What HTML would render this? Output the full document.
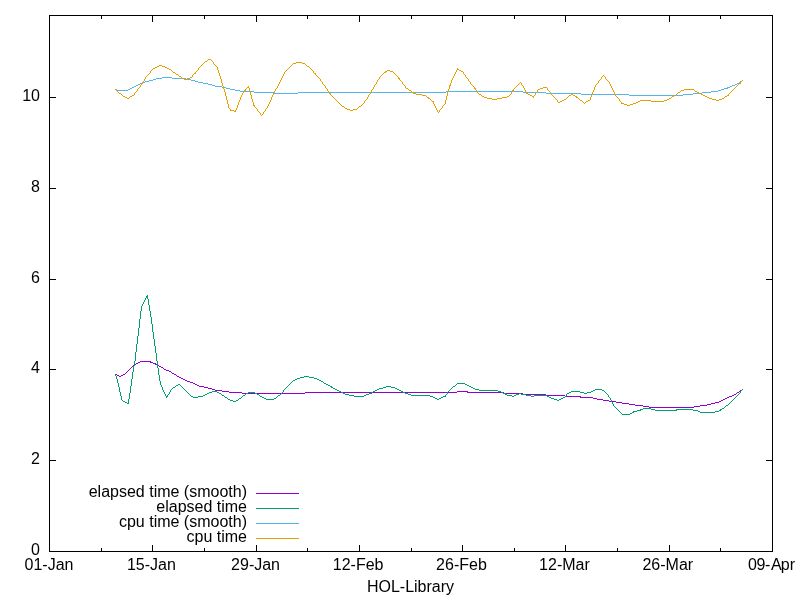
<!DOCTYPE html>
<html><head><meta charset="utf-8"><title>HOL-Library</title>
<style>
html,body{margin:0;padding:0;background:#fff;}
body{width:800px;height:600px;overflow:hidden;}
svg{display:block;will-change:transform;}
text{font-family:"Liberation Sans",sans-serif;font-size:16px;fill:#000;}
</style></head><body>
<svg width="800" height="600" viewBox="0 0 800 600">
<rect width="800" height="600" fill="#fff"/>
<g fill="none" stroke-width="1" shape-rendering="crispEdges">
<path d="M49,551.5H56M766,551.5H773M49,460.5H56M766,460.5H773M49,369.5H56M766,369.5H773M49,279.5H56M766,279.5H773M49,188.5H56M766,188.5H773M49,97.5H56M766,97.5H773M49.5,545V552M49.5,15V22M152.5,545V552M152.5,15V22M256.5,545V552M256.5,15V22M359.5,545V552M359.5,15V22M462.5,545V552M462.5,15V22M565.5,545V552M565.5,15V22M669.5,545V552M669.5,15V22M772.5,545V552M772.5,15V22M101.5,548V552M101.5,15V19M204.5,548V552M204.5,15V19M307.5,548V552M307.5,15V19M411.5,548V552M411.5,15V19M514.5,548V552M514.5,15V19M617.5,548V552M617.5,15V19M720.5,548V552M720.5,15V19" stroke="#000"/>
<path d="M140,361.5h11M138,362.5h2M150,362.5h3M136,363.5h2M153,363.5h3M134,364.5h2M155,364.5h2M157,365.5h2M159,366.5h2M161,367.5h2M164,369.5h2M166,370.5h3M169,371.5h2M172,373.5h2M115,374.5h2M123,374.5h2M174,374.5h2M117,375.5h2M121,375.5h2M119,376.5h2M177,376.5h2M179,377.5h2M181,378.5h2M183,379.5h2M185,380.5h2M187,381.5h3M190,382.5h3M193,383.5h2M195,384.5h2M197,385.5h2M199,386.5h5M204,387.5h4M208,388.5h4M212,389.5h3M215,390.5h7M740,390.5h2M222,391.5h7M457,391.5h11M739,391.5h2M229,392.5h13M305,392.5h152M467,392.5h37M737,392.5h2M242,393.5h63M504,393.5h19M522,394.5h24M734,394.5h2M546,395.5h19M732,395.5h2M565,396.5h16M729,396.5h3M580,397.5h13M727,397.5h2M593,398.5h4M725,398.5h2M597,399.5h6M723,399.5h2M603,400.5h6M721,400.5h2M609,401.5h7M719,401.5h2M616,402.5h6M715,402.5h4M622,403.5h7M711,403.5h4M629,404.5h6M707,404.5h4M635,405.5h8M700,405.5h7M643,406.5h6M694,406.5h6M649,407.5h45M125.5,373v1M126.5,372v1M127.5,371v1M128.5,370v1M129.5,369v1M130.5,368v1M131.5,367v1M132.5,366v1M133.5,365v1M163.5,368v1M171.5,372v1M176.5,375v1M736.5,393v1M742.5,389v1" stroke="#9400d3"/>
<path d="M146,296.5h2M146,297.5h2M304,376.5h5M300,377.5h4M309,377.5h5M297,378.5h3M314,378.5h3M295,379.5h2M317,379.5h2M293,380.5h2M319,380.5h2M321,381.5h2M324,383.5h2M457,383.5h8M178,384.5h2M326,384.5h2M465,384.5h2M176,385.5h2M328,385.5h2M467,385.5h2M330,386.5h2M386,386.5h5M453,386.5h2M469,386.5h2M173,387.5h2M331,387.5h2M383,387.5h3M391,387.5h4M471,387.5h2M333,388.5h2M379,388.5h4M395,388.5h2M473,388.5h2M335,389.5h2M377,389.5h2M397,389.5h2M475,389.5h4M595,389.5h7M337,390.5h2M375,390.5h2M399,390.5h2M479,390.5h19M593,390.5h2M602,390.5h2M212,391.5h5M339,391.5h2M373,391.5h2M401,391.5h2M498,391.5h3M571,391.5h9M591,391.5h2M209,392.5h3M217,392.5h2M248,392.5h7M341,392.5h2M371,392.5h2M403,392.5h2M501,392.5h2M569,392.5h2M580,392.5h4M587,392.5h4M207,393.5h2M219,393.5h2M246,393.5h2M255,393.5h2M343,393.5h2M369,393.5h3M405,393.5h3M503,393.5h3M519,393.5h2M567,393.5h2M584,393.5h3M205,394.5h2M257,394.5h2M345,394.5h4M366,394.5h3M408,394.5h3M505,394.5h2M516,394.5h3M521,394.5h5M203,395.5h2M222,395.5h2M243,395.5h2M278,395.5h2M349,395.5h5M364,395.5h2M411,395.5h19M507,395.5h5M514,395.5h2M526,395.5h5M534,395.5h13M166,396.5h2M191,396.5h2M198,396.5h5M260,396.5h2M354,396.5h10M430,396.5h3M443,396.5h3M512,396.5h2M531,396.5h3M547,396.5h2M193,397.5h5M225,397.5h2M262,397.5h2M433,397.5h2M441,397.5h2M549,397.5h2M563,397.5h2M239,398.5h2M264,398.5h2M274,398.5h2M435,398.5h2M439,398.5h2M551,398.5h3M561,398.5h2M228,399.5h2M266,399.5h8M437,399.5h2M554,399.5h3M559,399.5h2M230,400.5h3M236,400.5h2M557,400.5h2M123,401.5h2M233,401.5h3M125,402.5h2M127,403.5h2M726,405.5h2M643,408.5h8M722,408.5h2M640,409.5h3M651,409.5h4M676,409.5h17M720,409.5h2M637,410.5h4M655,410.5h22M693,410.5h5M719,410.5h2M633,411.5h4M698,411.5h2M715,411.5h4M632,412.5h2M700,412.5h15M630,413.5h2M622,414.5h8M115.5,374v2M116.5,376v3M117.5,379v4M118.5,383v4M119.5,387v5M120.5,392v4M121.5,396v4M122.5,400v1M128.5,399v4M129.5,393v6M130.5,386v7M131.5,379v7M132.5,372v7M133.5,366v6M134.5,361v5M135.5,352v9M136.5,344v8M137.5,336v8M138.5,328v8M139.5,319v9M140.5,311v8M141.5,306v5M142.5,304v2M143.5,302v2M144.5,300v2M145.5,298v2M147.5,295v1M147.5,298v1M148.5,299v6M149.5,305v6M150.5,311v6M151.5,317v7M152.5,324v8M153.5,332v7M154.5,339v7M155.5,346v7M156.5,353v8M157.5,361v7M158.5,368v7M159.5,375v6M160.5,381v4M161.5,385v2M162.5,387v3M163.5,390v2M164.5,392v2M165.5,394v2M166.5,397v1M167.5,395v1M168.5,394v1M169.5,392v2M170.5,390v2M171.5,389v1M172.5,388v1M175.5,386v1M180.5,385v1M181.5,386v1M182.5,387v1M183.5,388v1M184.5,389v1M185.5,390v1M186.5,391v1M187.5,392v1M188.5,393v1M189.5,394v1M190.5,395v1M221.5,394v1M224.5,396v1M227.5,398v1M238.5,399v1M241.5,397v1M242.5,396v1M245.5,394v1M259.5,395v1M276.5,397v1M277.5,396v1M280.5,394v1M281.5,393v1M282.5,392v1M283.5,390v2M284.5,389v1M285.5,388v1M286.5,387v1M287.5,386v1M288.5,385v1M289.5,384v1M290.5,383v1M291.5,382v1M292.5,381v1M323.5,382v1M445.5,395v1M446.5,394v1M447.5,392v2M448.5,391v1M449.5,390v1M450.5,389v1M451.5,388v1M452.5,387v1M455.5,385v1M456.5,384v1M565.5,396v1M566.5,394v2M604.5,391v1M605.5,392v1M606.5,393v1M607.5,394v1M608.5,395v2M609.5,397v1M610.5,398v2M611.5,400v2M612.5,402v2M613.5,404v2M614.5,406v1M615.5,407v1M616.5,408v1M617.5,409v1M618.5,410v1M619.5,411v1M620.5,412v1M621.5,413v1M724.5,407v1M725.5,406v1M728.5,404v1M729.5,403v1M730.5,402v1M731.5,401v1M732.5,400v1M733.5,399v1M734.5,398v1M735.5,397v1M736.5,396v1M737.5,395v1M738.5,394v1M739.5,393v1M740.5,391v2M741.5,390v1M742.5,389v1" stroke="#009e73"/>
<path d="M162,77.5h10M156,78.5h6M172,78.5h14M153,79.5h3M186,79.5h5M149,80.5h4M191,80.5h4M145,81.5h4M195,81.5h3M740,81.5h2M142,82.5h3M198,82.5h5M140,83.5h2M203,83.5h5M737,83.5h2M138,84.5h2M208,84.5h4M735,84.5h2M136,85.5h2M212,85.5h3M732,85.5h3M134,86.5h2M215,86.5h7M730,86.5h2M132,87.5h2M222,87.5h4M727,87.5h3M130,88.5h2M226,88.5h4M724,88.5h4M115,89.5h2M128,89.5h2M230,89.5h5M721,89.5h3M117,90.5h11M235,90.5h5M718,90.5h3M240,91.5h14M446,91.5h77M711,91.5h7M254,92.5h21M298,92.5h148M523,92.5h23M702,92.5h9M274,93.5h24M546,93.5h35M693,93.5h9M581,94.5h48M683,94.5h10M629,95.5h54M739.5,82v1M742.5,80v1" stroke="#56b4e9"/>
<path d="M208,59.5h3M205,61.5h2M296,62.5h6M293,63.5h3M302,63.5h3M159,65.5h3M157,66.5h2M162,66.5h3M307,66.5h2M155,67.5h2M165,67.5h2M153,68.5h2M167,68.5h2M169,69.5h2M457,69.5h2M387,70.5h3M459,70.5h2M385,71.5h2M390,71.5h3M461,71.5h2M173,72.5h2M384,72.5h2M194,73.5h2M314,73.5h2M176,74.5h2M179,76.5h2M190,77.5h2M182,78.5h2M187,78.5h3M398,78.5h2M184,79.5h3M739,83.5h2M449,85.5h2M247,87.5h2M543,87.5h4M406,88.5h2M474,88.5h2M540,88.5h3M538,89.5h2M684,89.5h10M244,90.5h2M409,90.5h2M512,90.5h2M681,90.5h3M695,91.5h2M412,92.5h2M678,92.5h2M697,92.5h2M119,93.5h2M329,93.5h2M413,93.5h3M526,93.5h2M699,93.5h2M416,94.5h6M479,94.5h2M528,94.5h2M571,94.5h2M701,94.5h2M132,95.5h2M422,95.5h4M530,95.5h2M569,95.5h2M573,95.5h2M674,95.5h2M703,95.5h2M727,95.5h2M123,96.5h2M130,96.5h2M482,96.5h2M507,96.5h2M532,96.5h2M575,96.5h2M672,96.5h2M705,96.5h2M725,96.5h2M125,97.5h2M427,97.5h2M484,97.5h3M502,97.5h5M576,97.5h2M707,97.5h2M127,98.5h2M428,98.5h2M487,98.5h5M497,98.5h5M669,98.5h2M709,98.5h3M722,98.5h2M492,99.5h5M564,99.5h2M667,99.5h2M712,99.5h4M719,99.5h3M562,100.5h2M580,100.5h2M588,100.5h2M640,100.5h11M664,100.5h3M716,100.5h3M432,101.5h2M560,101.5h2M586,101.5h2M638,101.5h2M651,101.5h13M558,102.5h2M636,102.5h2M621,103.5h3M633,103.5h3M624,104.5h3M630,104.5h3M253,105.5h2M627,105.5h3M342,106.5h2M359,106.5h2M345,108.5h2M347,109.5h3M353,109.5h4M230,110.5h4M350,110.5h3M234,111.5h2M115.5,89v1M116.5,90v1M117.5,91v1M118.5,92v1M121.5,94v1M122.5,95v1M129.5,97v1M134.5,93v2M135.5,92v1M136.5,91v1M137.5,89v2M138.5,88v1M139.5,87v1M140.5,85v2M141.5,84v1M142.5,82v2M143.5,81v1M144.5,79v2M145.5,77v2M146.5,76v1M147.5,75v1M148.5,74v1M149.5,73v1M150.5,71v2M151.5,70v1M152.5,69v1M171.5,70v1M172.5,71v1M175.5,73v1M178.5,75v1M181.5,77v1M192.5,75v2M193.5,74v1M195.5,72v1M196.5,71v1M197.5,70v1M198.5,68v2M199.5,67v1M200.5,66v1M201.5,65v1M202.5,64v1M203.5,63v1M204.5,62v1M207.5,60v1M211.5,60v1M212.5,61v1M213.5,62v2M214.5,64v1M215.5,65v1M216.5,66v1M217.5,67v3M218.5,70v3M219.5,73v3M220.5,76v3M221.5,79v4M222.5,83v3M223.5,86v3M224.5,89v3M225.5,92v4M226.5,96v4M227.5,100v4M228.5,104v4M229.5,108v1M230.5,109v1M235.5,110v1M236.5,108v2M237.5,105v3M238.5,102v3M239.5,100v2M240.5,97v3M241.5,95v2M242.5,93v2M243.5,92v1M244.5,91v1M245.5,89v1M246.5,88v1M248.5,86v1M249.5,88v3M250.5,91v4M251.5,95v4M252.5,99v3M253.5,102v3M254.5,106v1M255.5,107v1M256.5,108v1M257.5,109v2M258.5,111v1M259.5,112v1M260.5,113v2M261.5,115v1M262.5,114v1M263.5,112v2M264.5,111v1M265.5,109v2M266.5,108v1M267.5,106v2M268.5,104v2M269.5,102v2M270.5,100v2M271.5,97v3M272.5,95v2M273.5,93v2M274.5,91v2M275.5,89v2M276.5,88v1M277.5,86v2M278.5,84v2M279.5,82v2M280.5,80v2M281.5,78v2M282.5,76v2M283.5,74v2M284.5,72v2M285.5,71v1M286.5,70v1M287.5,69v1M288.5,68v1M289.5,67v1M290.5,66v1M291.5,65v1M292.5,64v1M305.5,64v1M306.5,65v1M309.5,67v1M310.5,68v1M311.5,69v1M312.5,70v1M313.5,71v2M315.5,74v1M316.5,75v1M317.5,76v1M318.5,77v1M319.5,78v1M320.5,79v2M321.5,81v1M322.5,82v2M323.5,84v1M324.5,85v1M325.5,86v2M326.5,88v1M327.5,89v2M328.5,91v1M329.5,92v1M330.5,94v1M331.5,95v1M332.5,96v1M333.5,97v1M334.5,98v1M335.5,99v1M336.5,100v1M337.5,101v1M338.5,102v1M339.5,103v1M340.5,104v1M341.5,105v1M344.5,107v1M357.5,108v1M358.5,107v1M361.5,105v1M362.5,104v1M363.5,103v1M364.5,101v2M365.5,100v1M366.5,99v1M367.5,97v2M368.5,95v2M369.5,94v1M370.5,92v2M371.5,90v2M372.5,89v1M373.5,87v2M374.5,85v2M375.5,84v1M376.5,82v2M377.5,80v2M378.5,79v1M379.5,77v2M380.5,76v1M381.5,75v1M382.5,74v1M383.5,73v1M393.5,72v1M394.5,73v1M395.5,74v1M396.5,75v1M397.5,76v1M398.5,77v1M399.5,79v1M400.5,80v1M401.5,81v1M402.5,82v2M403.5,84v1M404.5,85v1M405.5,86v2M408.5,89v1M411.5,91v1M426.5,96v1M430.5,99v1M431.5,100v1M433.5,102v2M434.5,104v2M435.5,106v2M436.5,108v2M437.5,110v2M438.5,112v1M439.5,110v2M440.5,109v1M441.5,108v1M442.5,106v2M443.5,105v1M444.5,104v1M445.5,100v4M446.5,96v4M447.5,92v4M448.5,89v3M449.5,86v3M450.5,83v2M451.5,80v3M452.5,78v2M453.5,76v2M454.5,74v2M455.5,72v2M456.5,70v2M457.5,68v1M463.5,72v2M464.5,74v1M465.5,75v2M466.5,77v1M467.5,78v1M468.5,79v2M469.5,81v1M470.5,82v2M471.5,84v1M472.5,85v1M473.5,86v1M474.5,87v1M475.5,89v1M476.5,90v1M477.5,91v2M478.5,93v1M481.5,95v1M509.5,95v1M510.5,94v1M511.5,92v2M512.5,91v1M513.5,89v1M514.5,88v1M515.5,87v1M516.5,86v1M517.5,85v1M518.5,84v1M519.5,83v1M520.5,82v1M521.5,83v2M522.5,85v1M523.5,86v2M524.5,88v2M525.5,90v2M526.5,92v1M533.5,97v1M534.5,95v1M535.5,93v2M536.5,92v1M537.5,90v2M547.5,88v2M548.5,90v1M549.5,91v1M550.5,92v1M551.5,93v2M552.5,95v1M553.5,96v1M554.5,97v1M555.5,98v1M556.5,99v1M557.5,100v2M566.5,98v1M567.5,97v1M568.5,96v1M578.5,98v1M579.5,99v1M582.5,101v1M583.5,102v1M584.5,103v1M585.5,102v1M590.5,97v3M591.5,95v2M592.5,92v3M593.5,90v2M594.5,87v3M595.5,85v2M596.5,84v1M597.5,83v1M598.5,81v2M599.5,80v1M600.5,79v1M601.5,77v2M602.5,76v1M603.5,75v1M604.5,76v1M605.5,77v2M606.5,79v1M607.5,80v1M608.5,81v1M609.5,82v2M610.5,84v2M611.5,86v2M612.5,88v2M613.5,90v2M614.5,92v2M615.5,94v2M616.5,96v1M617.5,97v1M618.5,98v1M619.5,99v2M620.5,101v1M621.5,102v1M671.5,97v1M676.5,94v1M677.5,93v1M680.5,91v1M694.5,90v1M724.5,97v1M728.5,94v1M729.5,93v1M730.5,92v1M731.5,91v1M732.5,90v1M733.5,89v1M734.5,88v1M735.5,87v1M736.5,86v1M737.5,85v1M738.5,84v1M740.5,82v1M741.5,81v1M742.5,80v1" stroke="#e69f00"/>
<path d="M256,493.5H299" stroke="#9400d3"/><path d="M256,508.5H299" stroke="#009e73"/><path d="M256,523.5H299" stroke="#56b4e9"/><path d="M256,538.5H299" stroke="#e69f00"/>
<rect x="49.5" y="15.5" width="723.0" height="536.0" stroke="#000"/>
</g>
<g><text x="40" y="555.1" text-anchor="end">0</text><text x="40" y="464.1" text-anchor="end">2</text><text x="40" y="373.1" text-anchor="end">4</text><text x="40" y="283.1" text-anchor="end">6</text><text x="40" y="192.1" text-anchor="end">8</text><text x="40" y="101.1" text-anchor="end">10</text><text x="49.00" y="570" text-anchor="middle">01-Jan</text><text x="151.39" y="570" text-anchor="middle">15-Jan</text><text x="255.57" y="570" text-anchor="middle">29-Jan</text><text x="358.16" y="570" text-anchor="middle">12-Feb</text><text x="461.44" y="570" text-anchor="middle">26-Feb</text><text x="564.43" y="570" text-anchor="middle">12-Mar</text><text x="667.81" y="570" text-anchor="middle">26-Mar</text><text x="748 756.5 765.05 771.1 780.7 789.7" y="570">09-Apr</text><text x="247" y="497.0" text-anchor="end">elapsed time (smooth)</text><text x="247" y="512.0" text-anchor="end">elapsed time</text><text x="247" y="527.0" text-anchor="end">cpu time (smooth)</text><text x="247" y="542.0" text-anchor="end">cpu time</text><text x="410.5" y="592" text-anchor="middle">HOL-Library</text></g>
</svg>
</body></html>
